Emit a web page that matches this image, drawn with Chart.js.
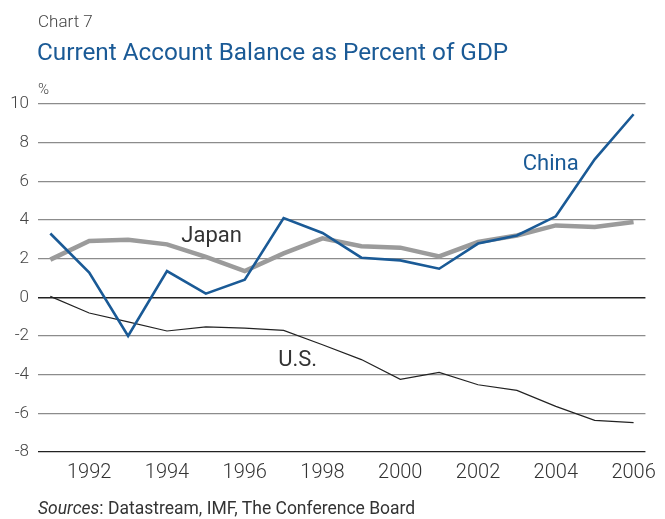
<!DOCTYPE html>
<html>
<head>
<meta charset="utf-8">
<script src="https://cdn.jsdelivr.net/npm/chart.js@4"></script>
<style>
  html, body { margin: 0; padding: 0; background: #fff; }
  body { width: 665px; height: 519px; position: relative; overflow: hidden; font-family: Roboto, "Noto Sans", sans-serif; }
  #wrap { position: absolute; left: 0; top: 0; width: 665px; height: 519px; }
  .txt { position: absolute; white-space: nowrap; line-height: 1; }
  #kicker { left: 38px; top: 13px; font-size: 17px; color: #444; font-weight: 300; }
  #title { left: 37px; top: 40px; font-size: 24.3px; color: #1a5a96; font-weight: 400; }
  #unit { left: 38px; top: 82px; font-size: 15px; color: #444; font-weight: 300; }
  #sources { left: 38px; top: 500px; font-size: 17.5px; color: #333; font-weight: 400; }
</style>
</head>
<body>
<div id="wrap"><canvas id="myChart" width="665" height="519"></canvas></div>
<div class="txt" id="kicker">Chart 7</div>
<div class="txt" id="title">Current Account Balance as Percent of GDP</div>
<div class="txt" id="unit">%</div>
<div class="txt" id="sources"><i>Sources</i>: Datastream, IMF, The Conference Board</div>
<script>
const years = [1991, 1992, 1993, 1994, 1995, 1996, 1997, 1998, 1999, 2000, 2001, 2002, 2003, 2004, 2005, 2006];
const china = [3.3, 1.28, -2.0, 1.36, 0.19, 0.91, 4.1, 3.33, 2.05, 1.91, 1.48, 2.78, 3.2, 4.19, 7.14, 9.47];
const japan = [1.95, 2.91, 2.98, 2.74, 2.09, 1.36, 2.27, 3.05, 2.64, 2.57, 2.12, 2.86, 3.2, 3.72, 3.64, 3.9];
const us = [0.05, -0.81, -1.27, -1.74, -1.53, -1.59, -1.71, -2.45, -3.22, -4.24, -3.88, -4.52, -4.81, -5.64, -6.36, -6.48];
const xTicks = [1992, 1994, 1996, 1998, 2000, 2002, 2004, 2006];
const yTicks = [-8, -6, -4, -2, 0, 2, 4, 6, 8, 10];

// series names written next to the lines
const seriesLabels = [
    { text: 'Japan', x: 1994.37, y: 2.86, color: '#333333' },
    { text: 'China', x: 2003.15, y: 6.57, color: '#1a5a96' },
    { text: 'U.S.', x: 1996.86, y: -3.57, color: '#333333' }
];

const pts = (vals) => years.map((yr, i) => ({ x: yr, y: vals[i] }));

const lineLabels = {
    id: 'lineLabels',
    afterDatasetsDraw(chart) {
        const c = chart.ctx;
        const xs = chart.scales.x, ys = chart.scales.y;
        c.save();
        c.font = '400 22px Roboto, "Noto Sans", sans-serif';
        c.textAlign = 'left';
        c.textBaseline = 'alphabetic';
        seriesLabels.forEach(l => {
            c.fillStyle = l.color;
            c.fillText(l.text, xs.getPixelForValue(l.x), ys.getPixelForValue(l.y));
        });
        c.restore();
    }
};

const ctx = document.getElementById('myChart');
const PLOT = new Chart(ctx, {
    type: 'line',
    data: {
        datasets: [{
            label: 'China',
            data: pts(china),
            borderColor: '#1a5a96',
            borderWidth: 2.6,
            pointRadius: 0,
            tension: 0,
            order: 1
        },{
            label: 'Japan',
            data: pts(japan),
            borderColor: '#9b9b9b',
            borderWidth: 4.5,
            pointRadius: 0,
            tension: 0,
            order: 2
        },{
            label: 'U.S.',
            data: pts(us),
            borderColor: '#222222',
            borderWidth: 1.2,
            pointRadius: 0,
            tension: 0,
            order: 3
        }]
    },
    plugins: [lineLabels],
    options: {
        responsive: false,
        animation: false,
        layout: {
            padding: { top: 104, right: 12, left: 0, bottom: 0 }
        },
        plugins: {
            legend: { display: false },
            tooltip: { enabled: false }
        },
        scales: {
            x: {
                type: 'linear',
                min: 1990.683,
                max: 2006.305,
                afterBuildTicks: (s) => { s.ticks = xTicks.map(v => ({ value: v })); },
                afterFit: (s) => { s.height = 67; },
                grid: { display: false, drawTicks: false },
                border: { display: false },
                ticks: {
                    padding: 9,
                    color: '#333',
                    font: { family: 'Roboto', size: 20, weight: '300' },
                    callback: (v) => String(v)
                }
            },
            y: {
                min: -8,
                max: 10,
                afterBuildTicks: (s) => { s.ticks = yTicks.map(v => ({ value: v })); },
                afterFit: (s) => { s.width = 38; },
                grid: {
                    drawTicks: false,
                    color: (c) => (c.tick && (c.tick.value === 0 || c.tick.value === -8)) ? '#222222' : '#8c8c8c',
                    lineWidth: (c) => (c.tick && c.tick.value === 0) ? 1.5 : 1.2
                },
                border: { display: false },
                ticks: {
                    padding: 9,
                    color: '#444',
                    font: { family: 'Roboto', size: 17, weight: '300' }
                }
            }
        }
    }
});
</script>
</body>
</html>
